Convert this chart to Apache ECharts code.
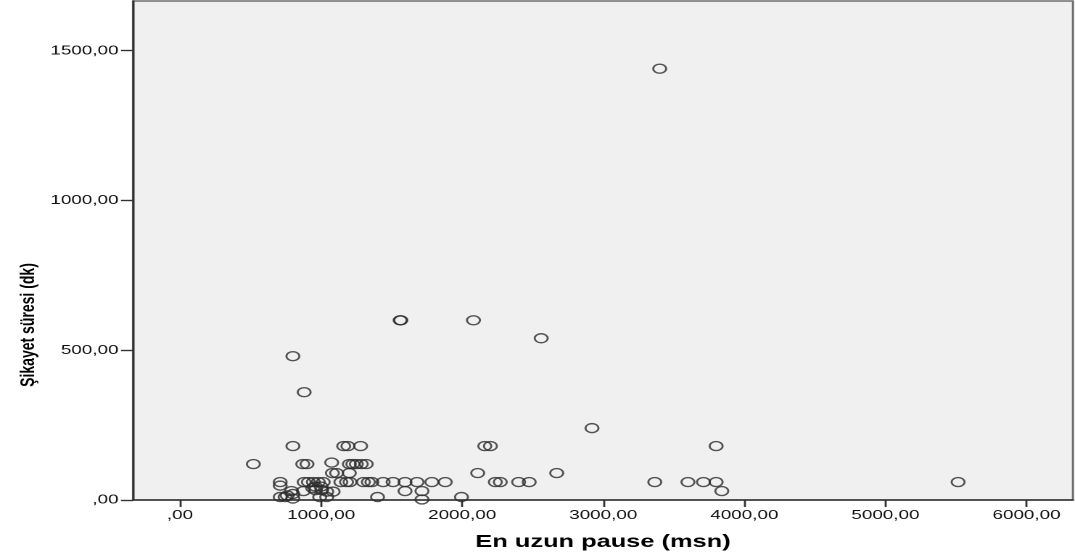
<!DOCTYPE html>
<html>
<head>
<meta charset="utf-8">
<script src="https://cdn.jsdelivr.net/npm/echarts@6/dist/echarts.min.js"></script>
<style>
  html, body { margin: 0; padding: 0; background: #fff; overflow: hidden; }
  /* The chart is laid out narrow and stretched sideways, giving the wide glyphs and oval markers */
  #chart { width: 741px; height: 559px; transform: scaleX(1.4507); transform-origin: 0 0; }
</style>
</head>
<body>
<div id="chart"></div>
<script>
// Longest pause (ms) for each case
const pauseMs = [
  3400, 1560, 1565, 2080, 2560, 800, 880, 2920,
  800, 1160, 1190, 1280, 2160, 2200, 3800,
  520, 870, 900, 1075, 1200, 1225, 1250, 1285, 1320,
  1080, 1110, 1200, 2110, 2670,
  710, 880, 910, 945, 980, 1015, 1140, 1180, 1205, 1300, 1335, 1360, 1440, 1510,
  1595, 1680, 1785, 1880, 2235, 2270, 2400, 2475, 3365, 3600, 3710, 3800, 5515,
  710, 940, 960, 1000,
  790, 875, 960, 1005, 1040, 1085, 1595, 1715, 3840,
  710, 745, 800, 990, 1040, 1400, 1715, 1995, 800, 760
];
// Complaint duration (minutes) for each case
const complaintMin = [
  1440, 600, 600, 600, 540, 480, 360, 240,
  180, 180, 180, 180, 180, 180, 180,
  120, 120, 120, 125, 120, 120, 120, 120, 120,
  90, 90, 90, 90, 90,
  60, 60, 60, 60, 60, 60, 60, 60, 60, 60, 60, 60, 60, 60,
  60, 60, 60, 60, 60, 60, 60, 60, 60, 60, 60, 60, 60,
  48, 40, 45, 45,
  30, 30, 33, 33, 28, 28, 30, 30, 30,
  10, 10, 5, 10, 10, 10, 2, 10, 20, 15
];
const xTicks = [0, 1000, 2000, 3000, 4000, 5000, 6000];
const yTicks = [0, 500, 1000, 1500];
const xTitle = 'En uzun pause (msn)';
const yTitle = 'Şikayet süresi (dk)';

// Decimal comma, zero shown as ",00"
const fmt = v => (v === 0 ? '' : String(v)) + ',00';

const points = pauseMs.map((x, i) => [x, complaintMin[i]]);

const chart = echarts.init(document.getElementById('chart'), null, { renderer: 'canvas', devicePixelRatio: 2 });
chart.setOption({
  animation: false,
  backgroundColor: '#ffffff',
  grid: {
    left: 91.7, right: 1.4, top: 1, bottom: 59,
    show: true, backgroundColor: '#f0f0f0',
    borderColor: '#6e6e6e', borderWidth: 1.5
  },
  xAxis: {
    type: 'value', min: -333, max: 6329,
    splitLine: { show: false },
    axisLine: { show: true, onZero: false, lineStyle: { color: '#333', width: 1.5 } },
    axisTick: { show: true, length: 7, customValues: xTicks, lineStyle: { color: '#333', width: 1.4 } },
    axisLabel: {
      customValues: xTicks, formatter: fmt, margin: 9,
      color: '#111', fontFamily: 'Liberation Sans, Arial, sans-serif', fontSize: 13
    },
    name: xTitle, nameLocation: 'middle', nameGap: 33,
    nameTextStyle: { color: '#000', fontFamily: 'Liberation Sans, Arial, sans-serif', fontSize: 17.5, fontWeight: 'bold' }
  },
  yAxis: {
    type: 'value', min: 0, max: 1666,
    splitLine: { show: false },
    axisLine: { show: true, onZero: false, lineStyle: { color: '#333', width: 1.5 } },
    axisTick: { show: true, length: 8.3, customValues: yTicks, lineStyle: { color: '#333', width: 1.4 } },
    axisLabel: {
      customValues: yTicks, formatter: fmt, margin: 10,
      color: '#111', fontFamily: 'Liberation Sans, Arial, sans-serif', fontSize: 13
    }
  },
  graphic: [{
    type: 'text', x: 19.5, y: 325, rotation: Math.PI / 2,
    style: {
      text: yTitle, align: 'center', verticalAlign: 'middle',
      fill: '#000', font: 'bold 14px "Liberation Sans", Arial, sans-serif'
    }
  }],
  series: [{
    type: 'scatter',
    data: points,
    symbol: 'circle',
    symbolSize: 9,
    clip: false,
    itemStyle: { color: 'transparent', borderColor: '#2a2a2a', borderWidth: 1.4 }
  }]
});
</script>
</body>
</html>
